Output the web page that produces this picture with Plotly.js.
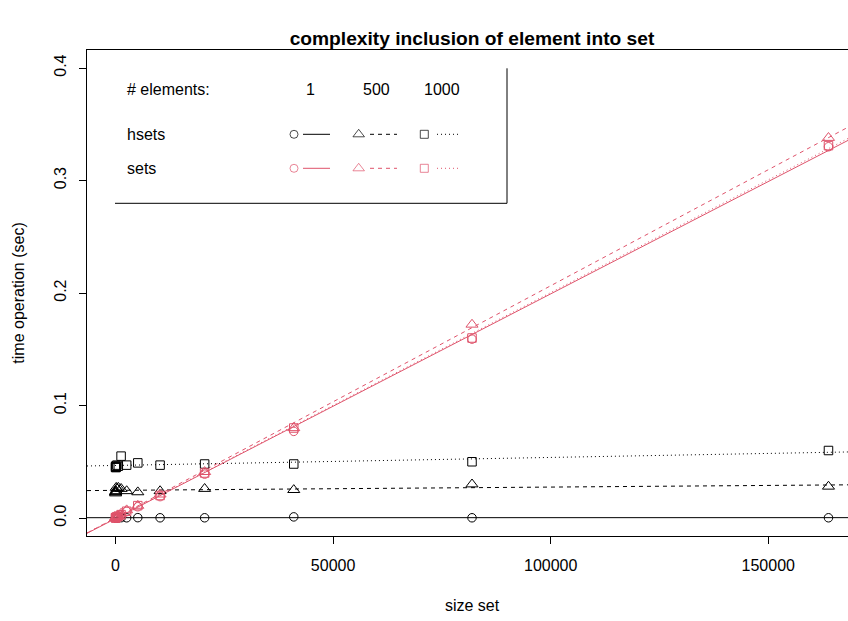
<!DOCTYPE html>
<html>
<head>
<meta charset="utf-8">
<script src="https://cdn.plot.ly/plotly-3.0.1.min.js"></script>
<style>
html,body{margin:0;padding:0;background:#fff;overflow:hidden;}
#plot{width:870px;height:621px;}
</style>
</head>
<body>
<div id="plot"></div>
<script>
// ---- data ----
var sizes = [10, 20, 40, 80, 160, 320, 640, 1280, 2560, 5120, 10240, 20480, 40960, 81920, 163840];

var hsets1    = [0.0002, 0.0001, 0.0003, 0.0002, 0.0002, 0.0003, 0.0002, 0.0003, 0.0002, 0.0003, 0.0002, 0.0002, 0.0010, 0.0002, 0.0002];
var hsets500  = [0.023, 0.022, 0.023, 0.024, 0.027, 0.026, 0.027, 0.026, 0.024, 0.023, 0.024, 0.026, 0.025, 0.030, 0.028];
var hsets1000 = [0.045, 0.046, 0.045, 0.046, 0.045, 0.047, 0.046, 0.055, 0.047, 0.049, 0.047, 0.048, 0.048, 0.050, 0.060];

var sets1     = [0.0001, 0.0001, 0.0002, 0.0003, 0.0005, 0.0008, 0.0015, 0.003, 0.006, 0.010, 0.019, 0.039, 0.077, 0.159, 0.330];
var sets500   = [0.0001, 0.0002, 0.0002, 0.0004, 0.0006, 0.0010, 0.0018, 0.004, 0.007, 0.011, 0.021, 0.041, 0.080, 0.172, 0.338];
var sets1000  = [0.0001, 0.0002, 0.0003, 0.0004, 0.0006, 0.0010, 0.0017, 0.003, 0.006, 0.011, 0.020, 0.040, 0.080, 0.160, 0.331];

var legendHeader = ["# elements:", "1", "500", "1000"];
var legendRows = ["hsets", "sets"];

var xTicks = [0, 50000, 100000, 150000];
var yTicks = [0.0, 0.1, 0.2, 0.3, 0.4];
var xRange = [-6553.6, 170393.6];
var yRange = [-0.016, 0.416];

// ---- styles ----
var BLACK = "#000000", RED = "#DF536B";
var FONT = "Liberation Sans, Arial, Helvetica, sans-serif";
var symbols = ["circle-open", "triangle-up-open", "square-open"];
var symSizes = [8.5, 10.5, 8.5];
var dashes = ["solid", "4px,4px", "1px,3px"];

// least-squares fit (as abline(lm(y ~ x)))
function lmFit(x, y) {
  var n = x.length, mx = 0, my = 0;
  for (var i = 0; i < n; i++) { mx += x[i]; my += y[i]; }
  mx /= n; my /= n;
  var sxy = 0, sxx = 0;
  for (var i = 0; i < n; i++) { sxy += (x[i] - mx) * (y[i] - my); sxx += (x[i] - mx) * (x[i] - mx); }
  var b = sxy / sxx;
  return {a: my - b * mx, b: b};
}

var groups = [
  {y: hsets1, col: BLACK, k: 0}, {y: hsets500, col: BLACK, k: 1}, {y: hsets1000, col: BLACK, k: 2},
  {y: sets1, col: RED, k: 0}, {y: sets500, col: RED, k: 1}, {y: sets1000, col: RED, k: 2}
];

var traces = [];
groups.forEach(function (g) {
  var f = lmFit(sizes, g.y);
  traces.push({
    x: xRange, y: [f.a + f.b * xRange[0], f.a + f.b * xRange[1]],
    mode: "lines", line: {color: g.col, width: 1, dash: dashes[g.k]},
    hoverinfo: "skip", showlegend: false
  });
});
groups.forEach(function (g) {
  traces.push({
    x: sizes, y: g.y, mode: "markers",
    marker: {symbol: symbols[g.k], size: symSizes[g.k], color: g.col, line: {color: g.col, width: 1}},
    showlegend: false
  });
});

// ---- custom legend on an overlay pixel-like axis (x2/y2) ----
var PX = [87, 857], PY = [536, 50];
var colX = [294, 358.7, 424.3];
var lineSeg = [[303, 330], [370, 397], [437, 460]];
var rowY = [134.3, 168.3];
var rowCol = [BLACK, RED];
var LFS = 16;

var shapes = [];
var annotations = [];
annotations.push({xref: "x2", yref: "y2", x: 125, y: 89.3, text: legendHeader[0], showarrow: false, xanchor: "left", yanchor: "middle", font: {family: FONT, size: LFS, color: BLACK}});
[310, 376, 441.7].forEach(function (cx, i) {
  annotations.push({xref: "x2", yref: "y2", x: cx, y: 89.3, text: legendHeader[i + 1], showarrow: false, xanchor: "center", yanchor: "middle", font: {family: FONT, size: LFS, color: BLACK}});
});
legendRows.forEach(function (name, r) {
  annotations.push({xref: "x2", yref: "y2", x: 125, y: rowY[r], text: name, showarrow: false, xanchor: "left", yanchor: "middle", font: {family: FONT, size: LFS, color: BLACK}});
  traces.push({
    x: colX, y: [rowY[r], rowY[r], rowY[r]], xaxis: "x2", yaxis: "y2", mode: "markers",
    marker: {symbol: symbols, size: [8, 10, 8], color: rowCol[r], line: {color: rowCol[r], width: 1}},
    showlegend: false, hoverinfo: "skip"
  });
  for (var k = 0; k < 3; k++) {
    shapes.push({type: "line", xref: "x2", yref: "y2", x0: lineSeg[k][0], x1: lineSeg[k][1], y0: rowY[r], y1: rowY[r],
      line: {color: rowCol[r], width: 1, dash: dashes[k]}});
  }
});
shapes.push({type: "line", xref: "x2", yref: "y2", x0: 115, x1: 507, y0: 203.3, y1: 203.3, line: {color: BLACK, width: 1}});
shapes.push({type: "line", xref: "x2", yref: "y2", x0: 507, x1: 507, y0: 68.3, y1: 203.3, line: {color: BLACK, width: 1}});

var layout = {
  width: 870, height: 621,
  margin: {l: 87, r: 13, t: 50, b: 85, pad: 0},
  paper_bgcolor: "#fff", plot_bgcolor: "#fff",
  font: {family: FONT, size: 16, color: BLACK},
  title: {text: "<b>complexity inclusion of element into set</b>", x: 0.5, xref: "paper", xanchor: "center",
          y: 1 - 38 / 621, yref: "container", yanchor: "middle", font: {family: FONT, size: 19.2, color: BLACK}},
  xaxis: {range: xRange, tickvals: xTicks, tickformat: "d", showgrid: false, zeroline: false,
          showline: true, mirror: true, linecolor: BLACK, linewidth: 1,
          ticks: "outside", ticklen: 7, tickwidth: 1, tickcolor: BLACK, ticklabelstandoff: 8,
          tickfont: {family: FONT, size: 16, color: BLACK},
          title: {text: "size set", standoff: 26, font: {family: FONT, size: 16, color: BLACK}}, automargin: false},
  yaxis: {range: yRange, tickvals: yTicks, tickformat: ".1f", tickangle: -90, showgrid: false, zeroline: false,
          showline: true, mirror: true, linecolor: BLACK, linewidth: 1,
          ticks: "outside", ticklen: 7, tickwidth: 1, tickcolor: BLACK, ticklabelstandoff: 7,
          tickfont: {family: FONT, size: 16, color: BLACK},
          title: {text: "time operation (sec)", standoff: 22, font: {family: FONT, size: 16, color: BLACK}}, automargin: false},
  xaxis2: {range: PX, overlaying: "x", visible: false, fixedrange: true},
  yaxis2: {range: PY, overlaying: "y", visible: false, fixedrange: true},
  shapes: shapes,
  annotations: annotations,
  showlegend: false
};

Plotly.newPlot("plot", traces, layout, {staticPlot: true, displayModeBar: false, responsive: false});
</script>
</body>
</html>
